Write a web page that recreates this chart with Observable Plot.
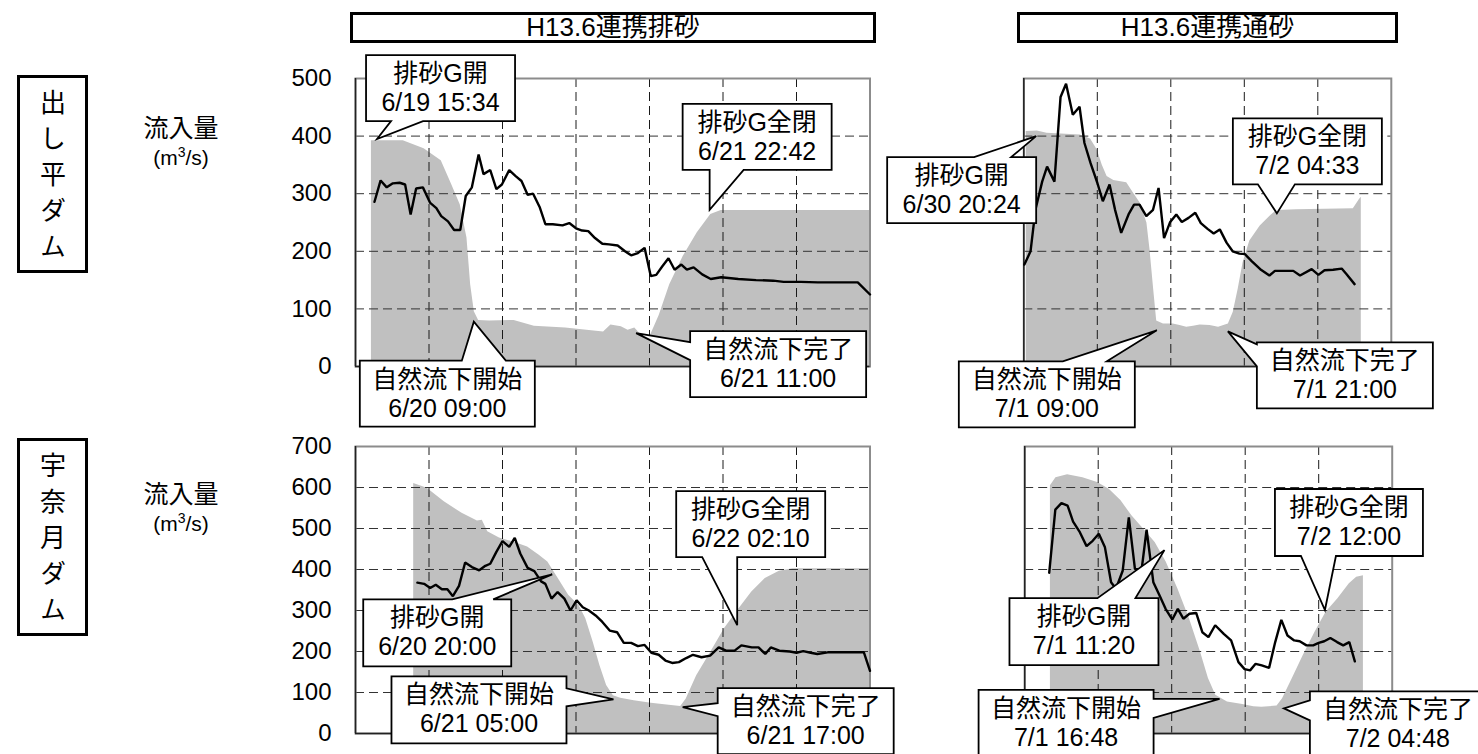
<!DOCTYPE html>
<html>
<head>
<meta charset="utf-8">
<script src="https://cdn.jsdelivr.net/npm/d3@7"></script>
<script src="https://cdn.jsdelivr.net/npm/@observablehq/plot@0.6"></script>
<style>
  body { margin: 0; background: #fff; }
  #page { position: relative; width: 1478px; height: 754px; overflow: hidden; background: #fff;
          font-family: "Liberation Sans", Arial, "Noto Sans CJK JP", sans-serif; color: #000; }
  .hdr { position: absolute; top: 12px; height: 31px; border: 3px solid #000; box-sizing: border-box;
         text-align: center; font-size: 26px; line-height: 25px; white-space: nowrap; }
  .dam { position: absolute; left: 17px; width: 71px; border: 3px solid #000; box-sizing: border-box;
         display: flex; align-items: center; justify-content: center; }
  .dam span { writing-mode: vertical-rl; font-size: 26px; letter-spacing: 10px; padding-top: 10px;
              font-family: "Noto Sans CJK JP", sans-serif; line-height: 1; }
  .unit { position: absolute; left: 121px; width: 120px; text-align: center; line-height: 1; }
  .unit .q { font-size: 25px; font-family: "Noto Sans CJK JP", sans-serif; }
  .unit .u { font-size: 21px; margin-top: 6px; }
  .unit sup { font-size: 14px; }
</style>
</head>
<body>
<div id="page">
  <div class="hdr" style="left:350px;width:526px;">H13.6連携排砂</div>
  <div class="hdr" style="left:1017px;width:381px;">H13.6連携通砂</div>
  <div class="dam" style="top:75px;height:198px;"><span>出し平ダム</span></div>
  <div class="dam" style="top:438px;height:198px;"><span>宇奈月ダム</span></div>
  <div class="unit" style="top:114px;"><div class="q">流入量</div><div class="u">(m<sup>3</sup>/s)</div></div>
  <div class="unit" style="top:480px;"><div class="q">流入量</div><div class="u">(m<sup>3</sup>/s)</div></div>
</div>
<script>
// Hours are counted from the left edge of each panel (12-hour grid).
// 出し平ダム, 連携排砂 (H13.6)
const dashidairaHaisaLevel = [[2.6,392],[7.8,392],[11.2,378],[14.0,357],[15.7,316],[17.1,281],[18.2,223],[18.8,142],[19.4,95],[20.1,80],[21.9,79],[25.9,80],[29.2,70],[34.3,67],[40.5,60],[41.7,72],[43.4,69],[44.5,63],[45.6,67],[46.7,54],[48.0,50],[49.6,89],[51.3,142],[53.5,191],[55.8,232],[58.0,264],[59.7,271],[84,271]];
const dashidairaHaisaInflow = [[3.1,286],[4.1,323],[5.1,311],[6.1,318],[7.2,319],[8.1,316],[9.0,264],[9.9,309],[11.0,311],[12.2,284],[13.2,275],[14.0,261],[15.1,252],[16.1,237],[17.1,237],[18.0,296],[19.0,311],[20.1,368],[20.9,334],[22.0,341],[23.0,308],[23.9,316],[25.1,341],[26.1,331],[27.1,322],[28.1,298],[29.0,300],[30.1,276],[31.0,247],[32.2,247],[33.8,245],[34.9,249],[36.0,240],[37.0,236],[38.0,235],[39.1,223],[40.3,213],[41.4,212],[42.8,210],[44.0,200],[45.0,193],[46.1,197],[47.2,206],[48.2,157],[49.1,159],[50.1,174],[51.1,188],[52.1,168],[53.2,177],[54.1,168],[55.2,172],[56.6,160],[58.0,152],[59.7,155],[62.5,152],[65.4,150],[68.2,149],[69.9,147],[72.7,147],[75.5,146],[79.5,146],[82.0,146],[84.0,125]];

// 出し平ダム, 連携通砂 (H13.6)
const dashidairaTsusaLevel = [[0.4,408],[2.2,409],[3.8,405],[9.2,402],[10.9,395],[12.0,376],[12.8,350],[13.6,330],[14.7,323],[16.8,319],[17.9,301],[19.0,284],[20.1,249],[20.6,203],[21.2,134],[21.7,79],[22.8,74],[24.4,74],[25.5,71],[26.6,68],[27.7,70],[28.8,72],[30.4,71],[31.8,68],[33.4,74],[34.2,94],[35.0,134],[35.8,180],[36.9,218],[38.6,244],[40.2,261],[41.3,271],[44.5,272],[53.8,274],[54.8,290],[55.1,294]];
const dashidairaTsusaInflow = [[0.1,177],[1.1,200],[1.9,272],[3.0,321],[3.8,347],[5.0,321],[6.0,468],[6.9,491],[8.0,437],[9.1,451],[9.9,388],[10.9,353],[12.0,319],[12.9,287],[14.0,316],[14.9,272],[15.9,232],[17.1,264],[18.0,281],[18.9,281],[20.0,261],[21.1,272],[22.0,310],[22.9,223],[23.9,251],[24.9,264],[25.8,251],[26.9,258],[28.0,267],[28.9,249],[30.0,239],[31.0,231],[32.0,238],[33.1,215],[34.1,200],[35.2,196],[36.1,195],[37.2,183],[38.6,169],[40.1,158],[41.0,166],[42.4,166],[44.0,166],[45.1,158],[47.0,169],[48.1,159],[49.1,167],[50.5,168],[51.9,170],[52.7,160],[54.0,143]];

// 宇奈月ダム, 連携排砂 (H13.6)
const unazukiHaisaLevel = [[9.5,610],[11.7,598],[14.5,565],[17.4,537],[19.9,518],[20.7,520],[21.6,492],[23.5,477],[25.8,467],[28.1,455],[30.0,435],[31.4,418],[33.1,378],[34.8,337],[36.5,312],[37.6,280],[38.8,223],[39.9,166],[41.0,117],[42.1,92],[43.3,86],[45.5,80],[48.3,74],[51.2,69],[53.1,66],[54.0,84],[55.7,141],[58.0,198],[60.2,255],[62.4,300],[64.7,345],[66.9,378],[69.2,396],[71.4,402],[84,402]];
const unazukiHaisaInflow = [[10.1,368],[11.2,365],[12.2,355],[13.1,363],[14.1,352],[15.0,352],[15.9,335],[16.9,360],[17.9,417],[19.0,406],[20.2,398],[21.2,409],[22.0,414],[23.0,443],[24.0,469],[25.1,455],[26.0,477],[26.9,439],[28.1,404],[29.2,396],[30.3,371],[31.0,365],[32.0,329],[33.0,345],[34.1,329],[35.1,300],[36.1,325],[37.1,308],[38.1,300],[39.2,288],[40.3,272],[41.5,251],[42.7,247],[43.8,221],[45.0,221],[46.1,213],[47.2,216],[48.3,197],[49.5,192],[50.6,178],[51.7,172],[52.8,174],[54.0,184],[55.1,192],[56.5,186],[57.9,190],[59.3,210],[60.5,202],[61.9,202],[63.0,215],[64.7,210],[65.8,210],[66.9,194],[67.8,210],[69.2,202],[70.9,200],[72.0,197],[73.1,201],[74.3,197],[75.4,194],[77.1,198],[78.8,198],[80.5,198],[83.0,198],[84.0,153]];

// 宇奈月ダム, 連携通砂 (H13.6)
const unazukiTsusaLevel = [[4.2,604],[5.1,624],[7.0,631],[9.5,624],[11.9,612],[13.8,596],[15.7,568],[17.5,531],[19.4,499],[21.3,466],[23.1,418],[25.0,353],[26.9,280],[28.7,199],[30.0,134],[31.2,93],[33.1,77],[35.6,71],[37.4,65],[38.7,64],[41.2,67],[42.1,85],[43.7,134],[45.5,191],[47.4,247],[49.2,296],[51.1,328],[53.0,365],[54.2,381],[55.3,385]];
const unazukiTsusaInflow = [[4.0,392],[5.0,546],[6.0,562],[7.0,556],[7.9,517],[9.0,491],[10.1,457],[11.1,470],[12.1,487],[13.1,454],[14.1,369],[14.9,353],[16.0,397],[17.0,527],[18.0,401],[19.1,401],[19.9,497],[21.0,369],[22.0,337],[23.0,304],[24.1,278],[25.0,304],[25.9,280],[26.9,292],[28.0,294],[29.0,247],[30.0,235],[31.1,264],[32.5,243],[33.7,227],[34.9,174],[35.9,157],[36.8,154],[37.7,170],[38.7,166],[39.9,160],[40.9,223],[41.9,277],[42.9,239],[44.0,227],[44.9,225],[46.0,215],[47.1,215],[48.0,221],[48.9,225],[49.9,233],[51.0,223],[52.0,215],[53.0,223],[53.9,176]];

// Axis ticks and grid positions
const ticksDashidaira = [0, 100, 200, 300, 400, 500];
const ticksUnazuki = [0, 100, 200, 300, 400, 500, 600, 700];
const gridHoursHaisa = [12, 24, 36, 48, 60, 72];
const gridHoursTsusa = [12, 24, 36, 48];

// Event callouts: label lines and the point (hour, value) each one points at
const eventsDashidairaHaisa = [
  {lines: ["排砂G開", "6/19 15:34"], at: [3.6, 394]},
  {lines: ["排砂G全閉", "6/21 22:42"], at: [57.9, 271]},
  {lines: ["自然流下開始", "6/20 09:00"], at: [19.4, 77]},
  {lines: ["自然流下完了", "6/21 11:00"], at: [45.9, 57]}
];
const eventsDashidairaTsusa = [
  {lines: ["排砂G開", "6/30 20:24"], at: [2.1, 399]},
  {lines: ["排砂G全閉", "7/2 04:33"], at: [41.4, 265]},
  {lines: ["自然流下開始", "7/1 09:00"], at: [21.8, 62]},
  {lines: ["自然流下完了", "7/1 21:00"], at: [33.4, 60]}
];
const eventsUnazukiHaisa = [
  {lines: ["排砂G開", "6/20 20:00"], at: [32.2, 387]},
  {lines: ["排砂G全閉", "6/22 02:10"], at: [62.4, 263]},
  {lines: ["自然流下開始", "6/21 05:00"], at: [42.2, 82]},
  {lines: ["自然流下完了", "6/21 17:00"], at: [53.5, 63]}
];
const eventsUnazukiTsusa = [
  {lines: ["排砂G開", "7/1 11:20"], at: [22.9, 446]},
  {lines: ["排砂G全閉", "7/2 12:00"], at: [49.1, 300]},
  {lines: ["自然流下開始", "7/1 16:48"], at: [31.9, 83]},
  {lines: ["自然流下完了", "7/2 04:48"], at: [42.4, 60]}
];

// Callout box placement (pixels, relative to the pointer tip) and pointer base along one box edge
const boxesDashidairaHaisa = [
  {dx: -11, dy: -84, w: 149, h: 66, side: "bottom", a: 25, b: 57},
  {dx: -27, dy: -106, w: 149, h: 66, side: "bottom", a: 27, b: 61},
  {dx: -114, dy: 39, w: 175, h: 66, side: "top", a: 102, b: 146},
  {dx: 54, dy: -2, w: 176, h: 66, side: "left", a: 11, b: 29}
];
const boxesDashidairaTsusa = [
  {dx: -149, dy: 21, w: 149, h: 66, side: "top", a: 87, b: 124},
  {dx: -44, dy: -95, w: 149, h: 66, side: "bottom", a: 25, b: 62},
  {dx: -198, dy: 31, w: 176, h: 66, side: "top", a: 104, b: 148},
  {dx: 29, dy: 11, w: 176, h: 66, side: "left", a: 2, b: 24}
];
const boxesUnazukiHaisa = [
  {dx: -189, dy: 25, w: 148, h: 67, side: "top", a: 89, b: 130},
  {dx: -61, dy: -134, w: 149, h: 66, side: "bottom", a: 26, b: 61},
  {dx: -222, dy: -23, w: 175, h: 67, side: "right", a: 12, b: 30},
  {dx: 35, dy: -19, w: 176, h: 66, side: "left", a: 15, b: 28}
];
const boxesUnazukiTsusa = [
  {dx: -155, dy: 48, w: 149, h: 67, side: "top", a: 88, b: 126},
  {dx: -50, dy: -121, w: 148, h: 67, side: "bottom", a: 26, b: 61},
  {dx: -241, dy: -9, w: 175, h: 66, side: "right", a: 9, b: 28},
  {dx: 26, dy: -17, w: 176, h: 66, side: "left", a: 9, b: 29}
];

const fontStack = '"Liberation Sans", Arial, "Noto Sans CJK JP", sans-serif';

function scaleFn(s) {
  if (typeof s.apply === "function") return v => s.apply(v);
  const [d0, d1] = s.domain, [r0, r1] = s.range;
  return v => r0 + (v - d0) / (d1 - d0) * (r1 - r0);
}

// Box outline with a triangular pointer inserted into one of its edges
function calloutPath(tx, ty, box) {
  const L = tx + box.dx, T = ty + box.dy, R = L + box.w, B = T + box.h;
  const p = [[L, T]];
  if (box.side === "top") p.push([L + box.a, T], [tx, ty], [L + box.b, T]);
  p.push([R, T]);
  if (box.side === "right") p.push([R, T + box.a], [tx, ty], [R, T + box.b]);
  p.push([R, B]);
  if (box.side === "bottom") p.push([L + box.b, B], [tx, ty], [L + box.a, B]);
  p.push([L, B]);
  if (box.side === "left") p.push([L, T + box.b], [tx, ty], [L, T + box.a]);
  return {d: "M" + p.map(q => q.join(",")).join("L") + "Z", L, T, R, B};
}

function panel(cfg) {
  const plot = Plot.plot({
    width: cfg.width, height: cfg.height,
    marginLeft: cfg.ml, marginRight: cfg.mr, marginTop: cfg.mt, marginBottom: cfg.mb,
    x: {domain: [0, cfg.xMax], axis: null},
    y: {domain: [0, cfg.yTicks[cfg.yTicks.length - 1]], ticks: cfg.yTicks, tickSize: 0, tickPadding: 24,
        label: null, axis: cfg.axis ? "left" : null, tickFormat: d => String(d)},
    style: {background: "transparent", overflow: "visible", fontSize: "24px", fontFamily: fontStack, color: "#000"},
    marks: [
      Plot.areaY(cfg.level, {x: d => d[0], y: d => d[1], fill: "#c0c0c0", curve: "linear"}),
      Plot.ruleX(cfg.gridHours, {stroke: "#1a1a1a", strokeWidth: 1, strokeDasharray: "9,5"}),
      Plot.ruleY(cfg.yTicks.slice(1, -1), {stroke: "#333", strokeWidth: 1, strokeDasharray: "9,5"}),
      Plot.frame({stroke: "#8c8c8c", strokeWidth: 2}),
      Plot.ruleX([0], {stroke: "#222", strokeWidth: 1.5}),
      Plot.ruleY([0], {stroke: "#222", strokeWidth: 1.5}),
      Plot.line(cfg.inflow, {x: d => d[0], y: d => d[1], stroke: "#000", strokeWidth: 2.4, strokeLinejoin: "miter"})
    ]
  });
  const fx = scaleFn(plot.scale("x")), fy = scaleFn(plot.scale("y"));
  const g = d3.select(plot).append("g").attr("class", "callouts");
  cfg.events.forEach((ev, i) => {
    const box = cfg.boxes[i];
    const tx = fx(ev.at[0]), ty = fy(ev.at[1]);
    const c = calloutPath(tx, ty, box);
    g.append("path").attr("d", c.d).attr("fill", "#fff").attr("stroke", "#000")
      .attr("stroke-width", 1.8).attr("stroke-linejoin", "miter");
    const cx = (c.L + c.R) / 2;
    ev.lines.forEach((t, k) => {
      g.append("text").attr("x", cx).attr("y", c.T + (k === 0 ? 18 : 47))
        .attr("text-anchor", "middle").attr("dominant-baseline", "central")
        .style("font-size", "25px").style("font-family", fontStack).attr("fill", "#000").text(t);
    });
  });
  plot.style.position = "absolute";
  plot.style.left = cfg.left + "px";
  plot.style.top = cfg.top + "px";
  plot.style.maxWidth = "none";
  document.getElementById("page").appendChild(plot);
}

panel({left: 240, top: 50, width: 640, height: 380, ml: 115, mr: 10.5, mt: 28, mb: 64,
       xMax: 84, yTicks: ticksDashidaira, gridHours: gridHoursHaisa, axis: true,
       level: dashidairaHaisaLevel, inflow: dashidairaHaisaInflow,
       events: eventsDashidairaHaisa, boxes: boxesDashidairaHaisa});
panel({left: 880, top: 50, width: 598, height: 380, ml: 143.3, mr: 87.2, mt: 28, mb: 64,
       xMax: 60, yTicks: ticksDashidaira, gridHours: gridHoursTsusa, axis: false,
       level: dashidairaTsusaLevel, inflow: dashidairaTsusaInflow,
       events: eventsDashidairaTsusa, boxes: boxesDashidairaTsusa});
panel({left: 240, top: 430, width: 640, height: 324, ml: 115, mr: 10.5, mt: 16, mb: 21,
       xMax: 84, yTicks: ticksUnazuki, gridHours: gridHoursHaisa, axis: true,
       level: unazukiHaisaLevel, inflow: unazukiHaisaInflow,
       events: eventsUnazukiHaisa, boxes: boxesUnazukiHaisa});
panel({left: 880, top: 430, width: 598, height: 324, ml: 144.2, mr: 86.3, mt: 16, mb: 21,
       xMax: 60, yTicks: ticksUnazuki, gridHours: gridHoursTsusa, axis: false,
       level: unazukiTsusaLevel, inflow: unazukiTsusaInflow,
       events: eventsUnazukiTsusa, boxes: boxesUnazukiTsusa});
</script>
</body>
</html>
